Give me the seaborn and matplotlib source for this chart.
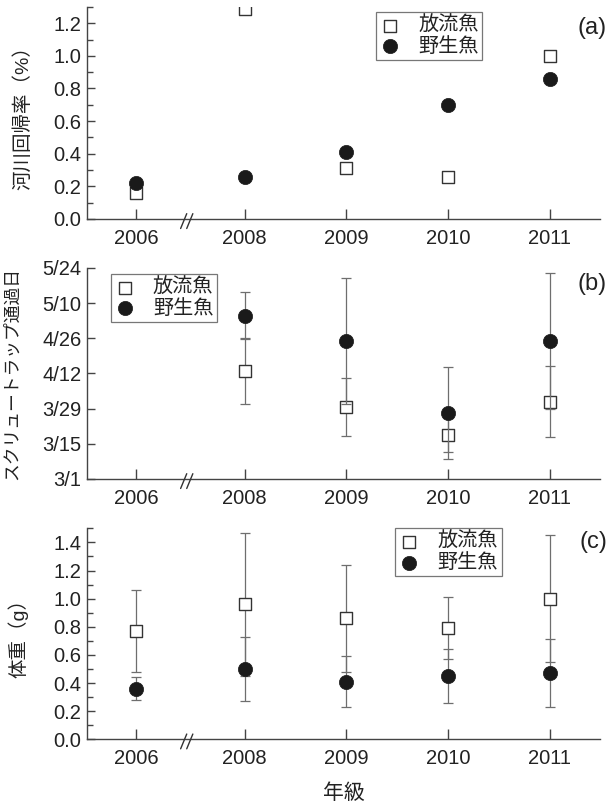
import numpy as np
import matplotlib
matplotlib.use("Agg")
import matplotlib.pyplot as plt
from matplotlib.ticker import MultipleLocator
import seaborn as sns

# data
years = ["2006", "2008", "2009", "2010", "2011"]
groups = ["放流魚", "野生魚"]

# (a) river return rate (%)
return_released = [0.16, 1.29, 0.31, 0.26, 1.00]
return_wild = [0.22, 0.26, 0.41, 0.70, 0.86]

# (b) screw trap passage, days after 3/1, mean and SD
pass_released = [np.nan, 43.1, 28.7, 17.4, 30.7]
pass_released_sd = [np.nan, 13.1, 11.5, 6.8, 14.1]
pass_wild = [np.nan, 65.0, 54.9, 26.1, 54.9]
pass_wild_sd = [np.nan, 9.3, 25.1, 18.3, 27.1]
date_ticks = [0, 14, 28, 42, 56, 70, 84]
date_labels = ["3/1", "3/15", "3/29", "4/12", "4/26", "5/10", "5/24"]

# (c) body weight (g), mean and SD
weight_released = [0.77, 0.96, 0.86, 0.79, 1.00]
weight_released_sd = [0.29, 0.51, 0.38, 0.22, 0.45]
weight_wild = [0.36, 0.50, 0.41, 0.45, 0.47]
weight_wild_sd = [0.08, 0.23, 0.18, 0.19, 0.24]

sns.set_style("ticks")
plt.rcParams["font.family"] = ["Liberation Sans", "Noto Sans CJK JP", "DejaVu Sans"]
plt.rcParams["text.color"] = "#222222"
plt.rcParams["axes.labelcolor"] = "#222222"
plt.rcParams["xtick.color"] = "#444444"
plt.rcParams["ytick.color"] = "#444444"
plt.rcParams["xtick.labelcolor"] = "#222222"
plt.rcParams["ytick.labelcolor"] = "#222222"

# axis break: squeeze 2006 a little closer than one full year
idx = np.arange(len(years))
xpos = idx + np.where(idx > 0, 0.07, 0.0)

fig = plt.figure(figsize=(6.09, 8.05), dpi=100)
left, width = 0.1429, 0.842
ax_a = fig.add_axes([left, 0.7280, width, 0.2634])
ax_b = fig.add_axes([left, 0.4050, width, 0.2621])
ax_c = fig.add_axes([left, 0.0816, width, 0.2621])

sq = dict(marker="s", s=70, color="white", edgecolor="#333333", linewidth=1.0)
ci = dict(marker="o", s=105, color="#1a1a1a", edgecolor="#1a1a1a", linewidth=0.5)
eb = dict(fmt="none", ecolor="#6e6e6e", elinewidth=0.9, capsize=3.6, capthick=0.9)


def draw_panel(ax, rel, wild, rel_sd=None, wild_sd=None):
    if rel_sd is not None:
        ax.errorbar(xpos, rel, yerr=rel_sd, zorder=1, **eb)
    sns.scatterplot(x=xpos, y=rel, ax=ax, label=groups[0], zorder=2, **sq)
    if wild_sd is not None:
        ax.errorbar(xpos, wild, yerr=wild_sd, zorder=3, **eb)
    sns.scatterplot(x=xpos, y=wild, ax=ax, label=groups[1], zorder=4, **ci)


def style_axes(ax, letter, label_y):
    ax.set_xlim(-0.48, 4.56)
    ax.set_xticks(xpos)
    ax.set_xticklabels(years)
    sns.despine(ax=ax)
    for s in ["left", "bottom"]:
        ax.spines[s].set_color("#444444")
        ax.spines[s].set_linewidth(1.0)
    ax.tick_params(axis="x", direction="in", length=7, width=1.0, labelsize=14.5, pad=7)
    ax.tick_params(axis="y", direction="in", length=6, width=1.0, labelsize=14.5, pad=4)
    ax.tick_params(axis="y", which="minor", direction="in", length=4, width=1.0)
    ax.text(1.014, label_y, f"({letter})", transform=ax.transAxes,
            ha="right", va="center", fontsize=17)
    # the // break marks on the x axis
    tr = ax.get_xaxis_transform()
    for dx in (-0.03, 0.03):
        ax.plot([0.5 + dx - 0.03, 0.5 + dx + 0.03], [-0.045, 0.025], transform=tr,
                color="#333333", lw=1.0, clip_on=False, zorder=5)


def style_legend(ax, x, y):
    leg = ax.legend(loc="upper left", bbox_to_anchor=(x, y), borderaxespad=0,
                    fontsize=14.5, frameon=True, fancybox=False, handlelength=1.0,
                    handletextpad=0.9, borderpad=0.2, labelspacing=0.08,
                    scatterpoints=1)
    leg.get_frame().set_edgecolor("#555555")
    leg.get_frame().set_linewidth(0.9)


# (a)
draw_panel(ax_a, return_released, return_wild)
ax_a.set_ylim(0, 1.3)
ax_a.yaxis.set_major_locator(MultipleLocator(0.2))
ax_a.yaxis.set_minor_locator(MultipleLocator(0.1))
ax_a.yaxis.set_major_formatter(lambda v, p: f"{v:.1f}")
ax_a.set_ylabel("河川回帰率（%）", fontsize=14)
ax_a.yaxis.set_label_coords(-0.107, 0.5)
style_axes(ax_a, "a", 0.90)
style_legend(ax_a, 0.563, 0.976)

# (b)
draw_panel(ax_b, pass_released, pass_wild, pass_released_sd, pass_wild_sd)
ax_b.set_ylim(0, 84)
ax_b.set_yticks(date_ticks)
ax_b.set_yticklabels(date_labels)
ax_b.set_ylabel("スクリュートラップ通過日", fontsize=12.8)
ax_b.yaxis.set_label_coords(-0.128, 0.5)
style_axes(ax_b, "b", 0.925)
style_legend(ax_b, 0.046, 0.972)

# (c)
draw_panel(ax_c, weight_released, weight_wild, weight_released_sd, weight_wild_sd)
ax_c.set_ylim(0, 1.5)
ax_c.yaxis.set_major_locator(MultipleLocator(0.2))
ax_c.yaxis.set_minor_locator(MultipleLocator(0.1))
ax_c.yaxis.set_major_formatter(lambda v, p: f"{v:.1f}")
ax_c.set_ylabel("体重（g）", fontsize=14)
ax_c.yaxis.set_label_coords(-0.115, 0.5)
ax_c.set_xlabel("年級", fontsize=15, labelpad=11)
style_axes(ax_c, "c", 0.934)
style_legend(ax_c, 0.601, 1.0)

fig.savefig("out.png", dpi=100)
